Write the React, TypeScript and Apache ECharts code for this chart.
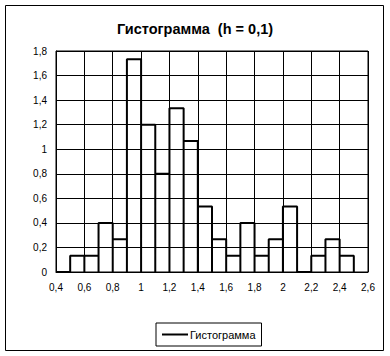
import React, { useEffect, useRef } from "react";
import * as echarts from "echarts";

const binStarts = [0.4, 0.5, 0.6, 0.7, 0.8, 0.9, 1.0, 1.1, 1.2, 1.3, 1.4, 1.5, 1.6, 1.7, 1.8, 1.9, 2.0, 2.1, 2.2, 2.3, 2.4];
const binWidth = 0.1;
const heights = [0, 0.133, 0.133, 0.4, 0.267, 1.733, 1.2, 0.8, 1.333, 1.067, 0.533, 0.267, 0.133, 0.4, 0.133, 0.267, 0.533, 0, 0.133, 0.267, 0.133];
const titleText = "Гистограмма  (h = 0,1)";
const seriesName = "Гистограмма";

const fmt = (v: number) => String(Number(v.toFixed(1))).replace(".", ",");

export default function App() {
  const ref = useRef<HTMLDivElement>(null);
  useEffect(() => {
    if (!ref.current) return;
    const chart = echarts.init(ref.current, null, { renderer: "svg" });
    const pts: number[][] = [];
    binStarts.forEach((x0, i) => {
      const x1 = Math.round((x0 + binWidth) * 10) / 10;
      pts.push([x0, 0], [x0, heights[i]], [x1, heights[i]], [x1, 0]);
    });
    chart.setOption({
      animation: false,
      backgroundColor: "#ffffff",
      textStyle: { fontFamily: "Liberation Sans, Arial, sans-serif" },
      title: {
        text: titleText,
        left: "center",
        top: 16,
        textStyle: { fontSize: 14.5, fontWeight: "bold", color: "#000", fontFamily: "Liberation Sans, Arial, sans-serif" },
      },
      grid: { left: 56, top: 51, right: 22, bottom: 84, show: true, borderColor: "#000", borderWidth: 1, containLabel: false },
      xAxis: {
        type: "value",
        min: 0.4,
        max: 2.6,
        interval: 0.2,
        axisLine: { show: true, lineStyle: { color: "#000", width: 1 } },
        axisTick: { show: false },
        splitLine: { show: true, lineStyle: { color: "#000", width: 1 } },
        axisLabel: { formatter: (v: number) => fmt(v), color: "#000", fontSize: 10, margin: 10 },
      },
      yAxis: {
        type: "value",
        min: 0,
        max: 1.8,
        interval: 0.2,
        axisLine: { show: true, lineStyle: { color: "#000", width: 1 } },
        axisTick: { show: false },
        splitLine: { show: true, lineStyle: { color: "#000", width: 1 } },
        axisLabel: { formatter: (v: number) => fmt(v), color: "#000", fontSize: 10, margin: 9 },
      },
      legend: {
        data: [{ name: seriesName, icon: "rect" }],
        left: 156,
        top: 323,
        orient: "horizontal",
        borderColor: "#000",
        borderWidth: 1,
        padding: [6, 6, 6, 6],
        itemWidth: 26,
        itemHeight: 2,
        itemGap: 4,
        itemStyle: { color: "#000" },
        textStyle: { fontSize: 11, color: "#000", padding: [0, 0, 0, -3] },
      },
      graphic: [
        {
          type: "rect",
          shape: { x: 5.5, y: 5.5, width: 378, height: 345 },
          style: { fill: "none", stroke: "#000", lineWidth: 1 },
          silent: true,
        },
      ],
      series: [
        {
          name: seriesName,
          type: "line",
          data: pts,
          symbol: "none",
          showSymbol: false,
          lineStyle: { color: "#000", width: 2 },
          itemStyle: { color: "#000" },
          z: 5,
        },
      ],
    });
    return () => chart.dispose();
  }, []);
  return <div ref={ref} style={{ position: "fixed", left: 0, top: 0, width: 390, height: 356 }} />;
}
